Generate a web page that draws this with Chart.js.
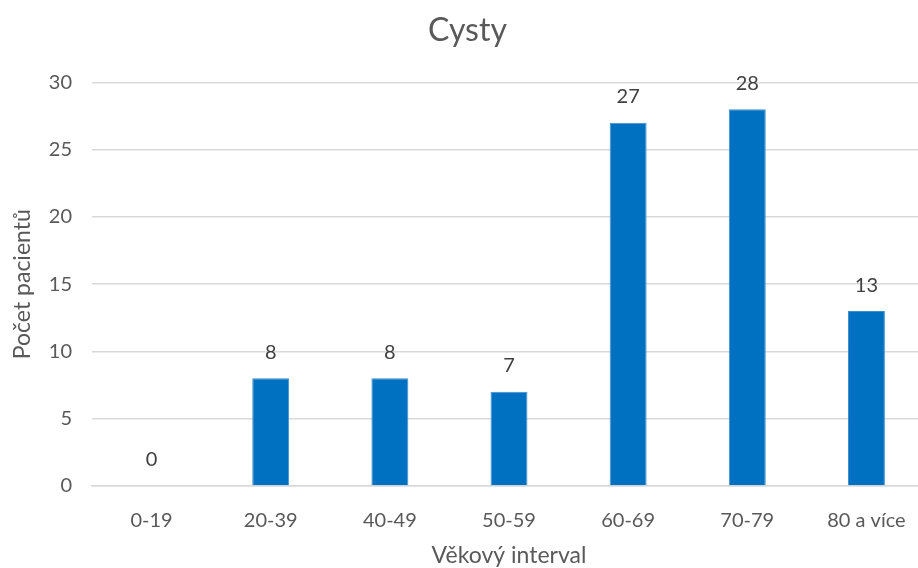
<!DOCTYPE html>
<html>
<head>
<meta charset="utf-8">
<script src="https://cdn.jsdelivr.net/npm/chart.js@4/dist/chart.umd.min.js"></script>
<style>
html, body { margin: 0; padding: 0; background: #fff; overflow: hidden; }
#wrap { width: 926px; height: 568px; position: relative; }
</style>
</head>
<body>
<div id="wrap"><canvas id="chart-cysty"></canvas></div>
<script>
var categories = ['0-19', '20-39', '40-49', '50-59', '60-69', '70-79', '80 a více'];
var patients = [0, 8, 8, 7, 27, 28, 13];
var yTicks = [0, 5, 10, 15, 20, 25, 30];

var fontFamily = 'Lato, "Open Sans", sans-serif';
var textColor = '#595959';

// values written above each bar
var barLabels = {
    id: 'barLabels',
    afterDatasetsDraw: function(chart) {
        var ctx = chart.ctx;
        var meta = chart.getDatasetMeta(0);
        ctx.save();
        ctx.font = '20px ' + fontFamily;
        ctx.fillStyle = '#404040';
        ctx.textAlign = 'center';
        ctx.textBaseline = 'middle';
        meta.data.forEach(function(bar, i) {
            ctx.fillText(String(patients[i]), bar.x, bar.y - 26);
        });
        ctx.restore();
    }
};

new Chart(document.getElementById('chart-cysty'), {
    type: 'bar',
    data: {
        labels: categories,
        datasets: [
            {
                label: 'Cysty',
                data: patients,
                backgroundColor: '#0070C0',
                borderColor: '#3d8fd0',
                borderWidth: 1,
                barPercentage: 0.31,
                categoryPercentage: 1
            }
        ]
    },
    options: {
        responsive: true,
        maintainAspectRatio: false,
        animation: false,
        layout: { padding: { left: 9, right: 0, top: 11, bottom: 0 } },
        plugins: {
            legend: { display: false },
            tooltip: { enabled: false },
            title: {
                display: true,
                text: 'Cysty',
                color: textColor,
                font: { family: fontFamily, size: 32, weight: 'normal' },
                padding: { top: 0, bottom: 33 }
            }
        },
        scales: {
            x: {
                afterFit: function(axis) {
                    axis.height = 82;
                },
                grid: { display: false },
                border: { color: '#d9d9d9', width: 1.5 },
                ticks: {
                    color: textColor,
                    font: { family: fontFamily, size: 20 },
                    padding: 15,
                    maxRotation: 0,
                    autoSkip: false
                },
                title: {
                    display: true,
                    text: 'Věkový interval',
                    color: textColor,
                    font: { family: fontFamily, size: 23 },
                    padding: { top: 9, bottom: -1 }
                }
            },
            y: {
                min: 0,
                max: 30,
                afterBuildTicks: function(axis) {
                    axis.ticks = yTicks.map(function(v) { return { value: v }; });
                },
                afterFit: function(axis) {
                    axis.width = 83;
                },
                grid: { color: '#d9d9d9', lineWidth: 1.5, drawTicks: false },
                border: { display: false },
                ticks: {
                    color: textColor,
                    font: { family: fontFamily, size: 20 },
                    padding: 20
                },
                title: {
                    display: true,
                    text: 'Počet pacientů',
                    color: textColor,
                    font: { family: fontFamily, size: 23 },
                    padding: { top: 0, bottom: 0 }
                }
            }
        }
    },
    plugins: [barLabels]
});
</script>
</body>
</html>
